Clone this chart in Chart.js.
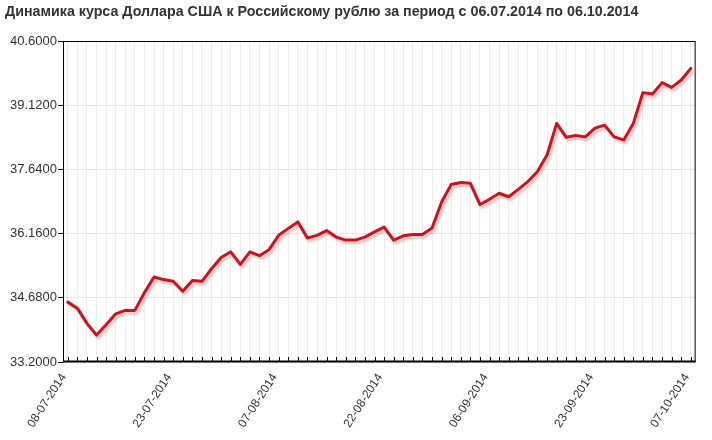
<!DOCTYPE html>
<html>
<head>
<meta charset="utf-8">
<script src="https://cdn.jsdelivr.net/npm/chart.js@4.4.1/dist/chart.umd.min.js"></script>
<style>
  html, body { margin: 0; padding: 0; background: #fff; }
  #wrap { width: 712px; height: 440px; }
</style>
</head>
<body>
<div id="wrap"><canvas id="rateChart" width="712" height="440"></canvas></div>
<script>
const titleText = 'Динамика курса Доллара США к Российскому рублю за период с 06.07.2014 по 06.10.2014';

const dates = [
    '08-07-2014', '09-07-2014', '10-07-2014', '11-07-2014', '12-07-2014', '15-07-2014', '16-07-2014', '17-07-2014', '18-07-2014', '19-07-2014',
    '22-07-2014', '23-07-2014', '24-07-2014', '25-07-2014', '26-07-2014', '29-07-2014', '30-07-2014', '31-07-2014', '01-08-2014', '02-08-2014',
    '05-08-2014', '06-08-2014', '07-08-2014', '08-08-2014', '09-08-2014', '12-08-2014', '13-08-2014', '14-08-2014', '15-08-2014', '16-08-2014',
    '19-08-2014', '20-08-2014', '21-08-2014', '22-08-2014', '23-08-2014', '26-08-2014', '27-08-2014', '28-08-2014', '29-08-2014', '30-08-2014',
    '02-09-2014', '03-09-2014', '04-09-2014', '05-09-2014', '06-09-2014', '09-09-2014', '10-09-2014', '11-09-2014', '12-09-2014', '13-09-2014',
    '16-09-2014', '17-09-2014', '18-09-2014', '19-09-2014', '20-09-2014', '23-09-2014', '24-09-2014', '25-09-2014', '26-09-2014', '27-09-2014',
    '30-09-2014', '01-10-2014', '02-10-2014', '03-10-2014', '04-10-2014', '07-10-2014'
];

const usdRub = [
    34.58, 34.44, 34.09, 33.82, 34.06, 34.31, 34.39, 34.39, 34.80, 35.16,
    35.10, 35.06, 34.83, 35.08, 35.06, 35.35, 35.61, 35.74, 35.45, 35.74,
    35.65, 35.79, 36.12, 36.28, 36.43, 36.06, 36.12, 36.23, 36.08, 36.01,
    36.01, 36.08, 36.20, 36.31, 36.01, 36.11, 36.14, 36.14, 36.29, 36.89,
    37.29, 37.34, 37.32, 36.83, 36.95, 37.09, 37.01, 37.18, 37.36, 37.59,
    37.97, 38.70, 38.38, 38.42, 38.39, 38.59, 38.66, 38.39, 38.32, 38.70,
    39.41, 39.38, 39.64, 39.53, 39.70, 39.97
];

const yTicks = [33.2, 34.68, 36.16, 37.64, 39.12, 40.6];

// only these dates get a label under the axis
const shownDates = ['08-07-2014', '23-07-2014', '07-08-2014', '22-08-2014', '06-09-2014', '23-09-2014', '07-10-2014'];

const frameAndTicks = {
    id: 'frameAndTicks',
    beforeDatasetsDraw(chart) {
        const ctx = chart.ctx;
        const a = chart.chartArea;
        const xs = chart.scales.x;
        ctx.save();
        ctx.strokeStyle = '#000';
        ctx.lineWidth = 1;
        ctx.strokeRect(a.left + 0.5, a.top + 0.5, a.right - a.left - 1, a.bottom - a.top - 1);
        ctx.lineWidth = 2;
        ctx.beginPath();
        ctx.moveTo(a.left, a.bottom - 0.5);
        ctx.lineTo(a.right, a.bottom - 0.5);
        ctx.stroke();
        // small tick marks pointing up into the plot
        ctx.lineWidth = 1;
        ctx.beginPath();
        dates.forEach((d, i) => {
            const px = Math.round(xs.getPixelForValue(i)) + 0.5;
            ctx.moveTo(px, a.bottom);
            ctx.lineTo(px, a.bottom - 5);
        });
        ctx.stroke();
        ctx.restore();
    }
};

const lineShadow = {
    id: 'lineShadow',
    beforeDatasetDraw(chart) {
        const ctx = chart.ctx;
        ctx.save();
        ctx.shadowColor = 'rgba(215, 110, 110, 0.4)';
        ctx.shadowOffsetX = 2;
        ctx.shadowOffsetY = 3;
        ctx.shadowBlur = 2;
    },
    afterDatasetDraw(chart) {
        chart.ctx.restore();
    }
};

const ctx = document.getElementById('rateChart').getContext('2d');

const chart = new Chart(ctx, {
    type: 'line',
    data: {
        labels: dates,
        datasets: [{
            label: 'USD/RUB',
            data: usdRub,
            borderColor: '#d0111b',
            borderWidth: 3,
            pointRadius: 0,
            tension: 0,
            fill: false,
            borderJoinStyle: 'round',
            borderCapStyle: 'round'
        }]
    },
    options: {
        responsive: false,
        animation: false,
        layout: {
            padding: { left: 5, right: 11, top: 0, bottom: 0 }
        },
        plugins: {
            legend: { display: false },
            tooltip: { enabled: false },
            title: {
                display: true,
                text: titleText,
                align: 'start',
                color: '#333',
                font: { family: 'Arial, "Liberation Sans", sans-serif', size: 14.25, weight: 'bold' },
                padding: { top: 3.4, bottom: 20.5 }
            }
        },
        scales: {
            x: {
                type: 'category',
                offset: true,
                grid: {
                    color: '#ededed',
                    drawTicks: false,
                    offset: false
                },
                border: { display: false },
                ticks: {
                    autoSkip: false,
                    maxRotation: 57,
                    minRotation: 57,
                    padding: 9,
                    labelOffset: -4,
                    color: '#333',
                    font: { family: 'Arial, "Liberation Sans", sans-serif', size: 12 },
                    callback: function(value, index) {
                        const d = dates[index];
                        return shownDates.includes(d) ? d : '';
                    }
                },
                afterFit: function(scale) {
                    scale.height = 78;
                }
            },
            y: {
                min: 33.2,
                max: 40.6,
                grid: {
                    color: '#e8e8e8',
                    tickColor: '#000',
                    tickLength: 5
                },
                border: { display: false },
                ticks: {
                    padding: 1,
                    color: '#333',
                    font: { family: 'Arial, "Liberation Sans", sans-serif', size: 13 },
                    callback: function(value) {
                        return Number(value).toFixed(4);
                    }
                },
                afterBuildTicks: function(scale) {
                    scale.ticks = yTicks.map(v => ({ value: v }));
                },
                afterFit: function(scale) {
                    scale.width = 58;
                }
            }
        }
    },
    plugins: [frameAndTicks, lineShadow]
});
</script>
</body>
</html>
